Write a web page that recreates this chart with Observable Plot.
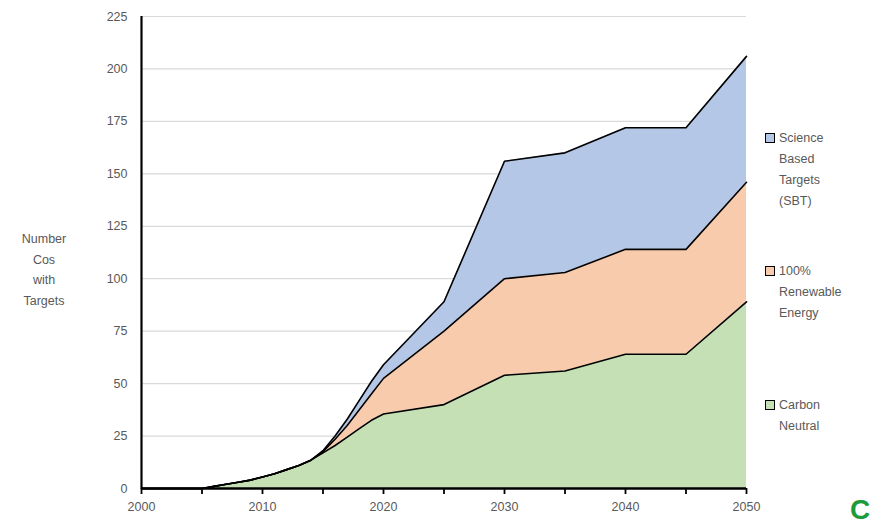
<!DOCTYPE html>
<html>
<head>
<meta charset="utf-8">
<script src="https://cdn.jsdelivr.net/npm/d3@7"></script>
<script src="https://cdn.jsdelivr.net/npm/@observablehq/plot@0.6"></script>
<style>
  html, body { margin: 0; padding: 0; background: #fff; }
  #wrap { position: relative; width: 876px; height: 527px; overflow: hidden; font-family: "Liberation Sans", Arial, sans-serif; color: #595959; }
  #ylab { position: absolute; left: 8px; top: 229px; width: 72px; text-align: center; font-size: 12.5px; line-height: 20.7px; }
  #legend { position: absolute; left: 765px; top: 0; font-size: 12.5px; line-height: 21px; }
  .item { position: absolute; left: 0; width: 110px; }
  .sw { position: absolute; left: 0; top: 5px; width: 8px; height: 8px; border: 1.5px solid #000; }
  .txt { position: absolute; left: 14px; top: 0; white-space: nowrap; }
  #logo { position: absolute; left: 850px; top: 496px; font-size: 28px; font-weight: bold; color: #1f9a3a; font-family: "Liberation Sans", Arial, sans-serif; line-height: 28px; }
</style>
</head>
<body>
<div id="wrap">
  <div id="chart"></div>
  <div id="ylab">Number<br>Cos<br>with<br>Targets</div>
  <div id="legend"></div>
  <div id="logo">C</div>
</div>
<script>
const years = [2000, 2005, 2006, 2007, 2008, 2009, 2010, 2011, 2012, 2013, 2014, 2015, 2016, 2017, 2018, 2019, 2020, 2025, 2030, 2035, 2040, 2045, 2050];
const seriesNames = ["Carbon Neutral", "100% Renewable Energy", "Science Based Targets (SBT)"];
const carbonNeutral = [0, 0, 1, 2, 3, 4, 5.5, 7, 9, 11, 13.5, 17, 20.5, 24.5, 28.5, 32.5, 35.5, 40, 54, 56, 64, 64, 89];
const renewable     = [0, 0, 0, 0, 0, 0, 0,   0, 0, 0,  0,    0.5, 3, 5.5, 9, 12.5, 17, 35, 46, 47, 50, 50, 57];
const sbt           = [0, 0, 0, 0, 0, 0, 0,   0, 0, 0,  0,    0.5, 1.5, 3, 4.5, 6, 6.5, 14, 56, 57, 58, 58, 60];
const colors = ["#c5e0b4", "#f8cbad", "#b4c7e7"];
const legendLines = [["Carbon", "Neutral"], ["100%", "Renewable", "Energy"], ["Science", "Based", "Targets", "(SBT)"]];
const yTicks = [0, 25, 50, 75, 100, 125, 150, 175, 200, 225];
const xTicks = [2000, 2005, 2010, 2015, 2020, 2025, 2030, 2035, 2040, 2045, 2050];

const values = [carbonNeutral, renewable, sbt];
const data = [];
seriesNames.forEach((s, i) => years.forEach((yr, j) => data.push({year: yr, series: s, value: values[i][j]})));

const chart = Plot.plot({
  width: 876,
  height: 527,
  marginLeft: 141,
  marginRight: 130,
  marginTop: 16,
  marginBottom: 39,
  style: {fontFamily: "'Liberation Sans', Arial, sans-serif", fontSize: "12.5px", color: "#595959", background: "transparent"},
  x: {domain: [2000, 2050]},
  y: {domain: [0, 225]},
  color: {domain: seriesNames, range: colors},
  marks: [
    Plot.gridY(yTicks, {stroke: "#d9d9d9", strokeOpacity: 1, strokeWidth: 1.2}),
    Plot.areaY(data, {x: "year", y: "value", z: "series", fill: "series", order: seriesNames}),
    Plot.lineY(data, Plot.stackY2({x: "year", y: "value", z: "series", order: seriesNames, stroke: "#000", strokeWidth: 1.6})),
    Plot.ruleX([2000], {y1: 0, y2: 225, stroke: "#000", strokeWidth: 2.2}),
    Plot.ruleY([0], {stroke: "#000", strokeWidth: 2.5}),
    Plot.axisY(yTicks, {tickSize: 0, tickPadding: 14, label: null, fill: "#595959"}),
    Plot.axisX(xTicks, {tickSize: 6, tickPadding: 8, label: null, stroke: "#000", strokeWidth: 1.8, fill: "#595959",
      tickFormat: d => d % 10 === 0 ? String(d) : ""})
  ]
});
document.getElementById("chart").appendChild(chart);

const legend = document.getElementById("legend");
const tops = [395, 261, 128];
seriesNames.forEach((s, i) => {
  const it = document.createElement("div");
  it.className = "item";
  it.style.top = tops[i] + "px";
  const sw = document.createElement("div");
  sw.className = "sw";
  sw.style.background = colors[i];
  const tx = document.createElement("div");
  tx.className = "txt";
  tx.innerHTML = legendLines[i].join("<br>");
  it.appendChild(sw);
  it.appendChild(tx);
  legend.appendChild(it);
});
</script>
</body>
</html>
